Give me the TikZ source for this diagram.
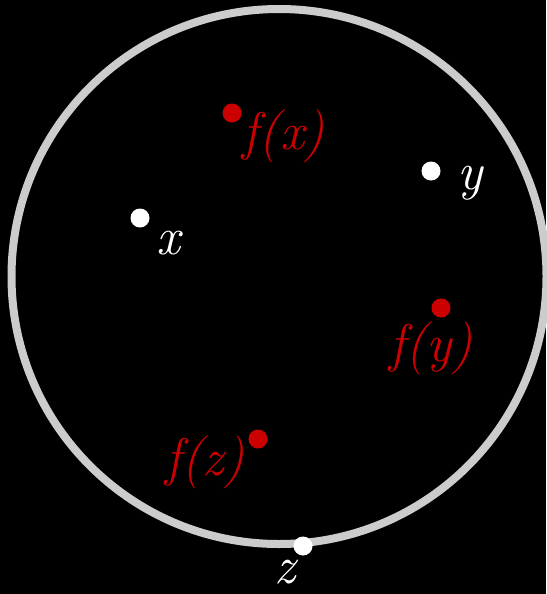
\documentclass[tikz,border=0pt]{standalone}
\usepackage{tikz}
\definecolor{ringgray}{HTML}{CCCCCC}
\definecolor{fred}{HTML}{CC0000}
\begin{document}
\begin{tikzpicture}[x=1pt,y=-1pt,
  wdot/.style={circle,fill=white,inner sep=0pt,minimum size=19pt},
  rdot/.style={circle,fill=fred,inner sep=0pt,minimum size=19pt},
  lbl/.style={inner sep=0pt,font=\fontsize{53}{58}\selectfont\itshape},
  wlbl/.style={lbl,text=white},
  rlbl/.style={lbl,text=fred}]
\fill[black] (0,0) rectangle (546,594);
\useasboundingbox (0,0) rectangle (546,594);
\draw[ringgray,line width=8pt] (279,276.5) circle[radius=267.5];
\node[wdot] (px) at (140,218) {};
\node[wlbl] (lx) at (168,243) {x};
\node[wdot] (py) at (431,171) {};
\node[wlbl] (ly) at (470,183) {y};
\node[wdot] (pz) at (303,546) {};
\node[wlbl] (lz) at (285,572) {z};
\node[rdot] (pfx) at (232,113) {};
\node[rlbl] (lfx) at (284,136) {f(x)};
\node[rdot] (pfy) at (441,308) {};
\node[rlbl] (lfy) at (431,348) {f(y)};
\node[rdot] (pfz) at (258,439) {};
\node[rlbl] (lfz) at (205,462) {f(z)};
\end{tikzpicture}
\end{document}
